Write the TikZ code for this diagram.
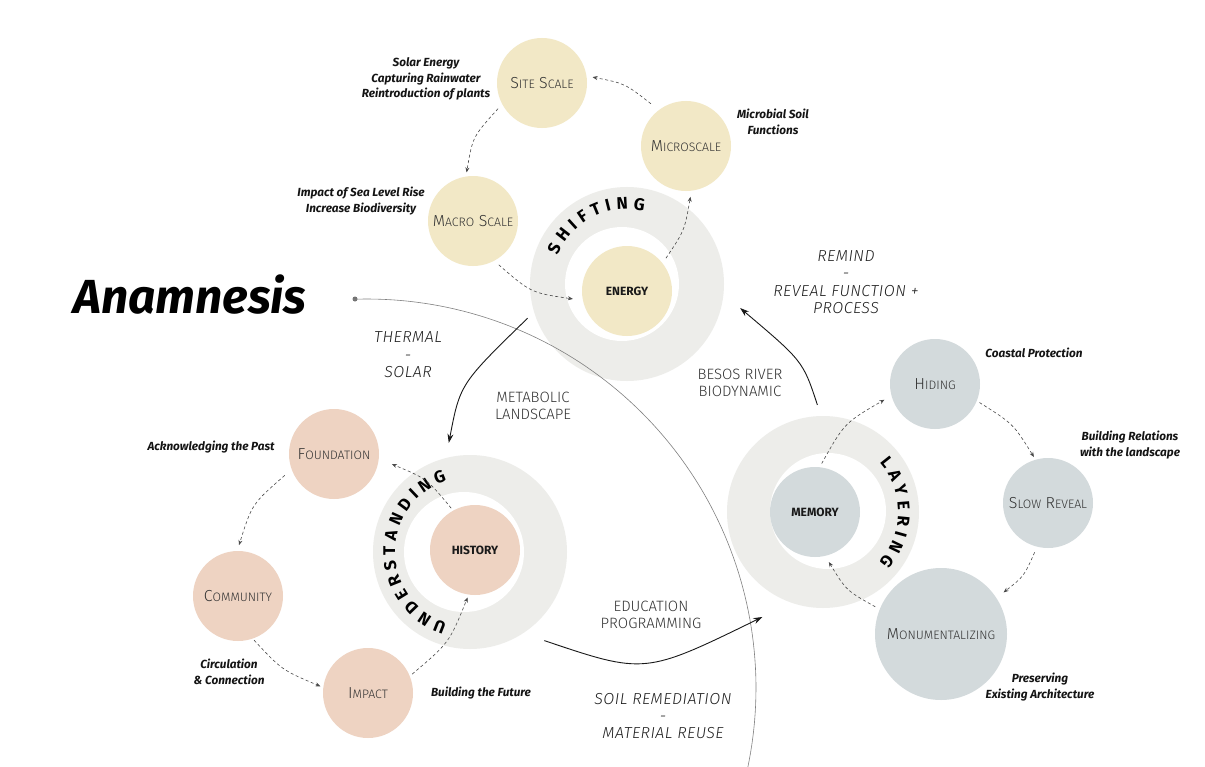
\documentclass[tikz,border=0pt]{standalone}
\usepackage{fontspec}
\setmainfont{Fira Sans}
\newfontfamily\lightf{Fira Sans Light}
\newfontfamily\lightsp{Fira Sans Light}[LetterSpace=3]
\usetikzlibrary{arrows.meta,decorations.text,calc}

\definecolor{cyel}{HTML}{F2E8C6}
\definecolor{cpink}{HTML}{EED3C2}
\definecolor{cblue}{HTML}{D3DADC}
\definecolor{cring}{HTML}{EDEDEA}
\definecolor{ctxt}{HTML}{333333}
\definecolor{cdash}{HTML}{4A4A4A}

\newcommand\scx[1]{{\fontsize{12.3}{14}\selectfont #1}}

\begin{document}
\begin{tikzpicture}[x=1bp,y=-1bp,
  bub/.style={circle, inner sep=0pt, minimum size=90bp, text=ctxt,
    font=\lightf\fontsize{16}{18}\selectfont},
  core/.style={circle, inner sep=0pt, minimum size=90bp, text=black!90,
    font=\bfseries\fontsize{12}{14}\selectfont},
  ringo/.style={circle, inner sep=0pt, fill=cring, minimum size=194bp},
  hole/.style={circle, inner sep=0pt, fill=white},
  note/.style={align=center, text=black!92,
    font=\bfseries\itshape\fontsize{11.8}{15.5}\selectfont},
  caps/.style={align=center, text=black!80,
    font=\lightf\fontsize{15}{16.5}\selectfont},
  icaps/.style={align=center, text=black!88,
    font=\lightsp\itshape\fontsize{16}{17.5}\selectfont},
  flow/.style={draw=cdash, line width=0.6bp, dash pattern=on 3bp off 2.5bp,
    -{Stealth[length=5bp,width=4bp]}, shorten <=6bp, shorten >=6bp},
  bigarrow/.style={draw=black!90, line width=0.9bp,
    -{Stealth[length=9bp,width=6bp]}},
  ringtext/.style={decorate, decoration={text along path, text align=fit to path,
    text={|\bfseries\fontsize{17}{17}\selectfont|#1}}}
]
\useasboundingbox (0,0) rectangle (1205,767);
\fill[white] (0,0) rectangle (1205,767);

% rings
\node[ringo] (eringr) at (627,284) {};
\node[hole, minimum size=114bp] (ehole) at (622,284) {};
\node[ringo] (hringr) at (470,552) {};
\node[hole, minimum size=120bp] (hhole) at (464,552) {};
\node[ringo, minimum size=192bp] (mringr) at (823,512) {};
\node[hole, minimum size=116bp] (mhole) at (828,511) {};

% ring texts
\path[ringtext=SHIFTING] plot[domain=202:283, samples=50] ({627+75*cos(\x)},{284+75*sin(\x)});
\path[ringtext=UNDERSTANDING] plot[domain=108:252, samples=60] ({470+75*cos(\x)},{552+75*sin(\x)});
\path[ringtext=LAYERING] plot[domain=-41:42, samples=50] ({823+75*cos(\x)},{512+75*sin(\x)});

% cores
\node[core, fill=cyel] (energy) at (627,291) {ENERGY};
\node[core, fill=cpink] (history) at (475,550) {HISTORY};
\node[core, fill=cblue] (memory) at (815,512) {MEMORY};

% satellites
\node[bub, fill=cyel] (site) at (542,83) {S\scx{ITE} S\scx{CALE}};
\node[bub, fill=cyel] (micro) at (686,146) {M\scx{ICROSCALE}};
\node[bub, fill=cyel] (macro) at (473,221) {M\scx{ACRO} S\scx{CALE}};
\node[bub, fill=cpink] (found) at (334,454) {F\scx{OUNDATION}};
\node[bub, fill=cpink] (comm) at (238,596) {C\scx{OMMUNITY}};
\node[bub, fill=cpink] (impact) at (368,693) {I\scx{MPACT}};
\node[bub, fill=cblue] (hiding) at (935,384) {H\scx{IDING}};
\node[bub, fill=cblue] (slow) at (1048,503) {S\scx{LOW} R\scx{EVEAL}};
\node[bub, fill=cblue, minimum size=132bp] (monu) at (941,634) {M\scx{ONUMENTALIZING}};

% gray line
\node[circle, fill=black!55, inner sep=0pt, minimum size=5bp] (gdot) at (355,299) {};
\draw[black!50, line width=0.6bp] (gdot.center) -- plot[domain=-92:12, samples=90] ({367+389*cos(\x)},{688+389*sin(\x)});

% dashed cycles
\draw[flow, shorten <=10bp] (micro.127) .. controls (625,83.5) .. (site.9);
\draw[flow, shorten >=4bp] (site.208) .. controls (472.7,136.7) .. (macro.99);
\draw[flow, shorten >=10bp] (macro.-62) .. controls (531,292.8) .. (energy.192);
\draw[flow] (energy.38) .. controls (684.5,230.5) .. (micro.-83);

\draw[flow, shorten <=9bp] (found.200) .. controls (252,504) .. (comm.91);
\draw[flow, shorten <=2bp, shorten >=3bp] (comm.-71) .. controls (281.9,670) .. (impact.173);
\draw[flow, shorten <=3bp, shorten >=3bp] (impact.22) .. controls (449.2,642.7) .. (history.262);
\draw[flow, shorten <=3bp, shorten >=14bp] (history.119) .. controls (426.8,478.7) .. (found.-6);

\draw[flow, shorten <=4bp, shorten >=8bp] (memory.84) .. controls (844.4,423) .. (hiding.195);
\draw[flow, shorten <=3bp, shorten >=3bp] (hiding.-22) .. controls (1013.2,423.8) .. (slow.106);
\draw[flow, shorten >=9bp] (slow.256) .. controls (1024,576.3) .. (monu.33);
\draw[flow, shorten <=5bp, shorten >=7bp] (monu.158) .. controls (846.3,590.5) .. (memory.-77);

% big arrows
\draw[bigarrow] ($(eringr.center)!1.082!(eringr.199)$) .. controls (460.1,383.9) .. ($(hringr.center)!1.144!(hringr.101)$);
\draw[bigarrow] ($(hringr.center)!1.19!(hringr.-50)$) .. controls (644.8,674.5) .. ($(mringr.center)!1.26!(mringr.-120)$);
\draw[bigarrow] ($(mringr.center)!1.115!(mringr.93)$) .. controls (803,361.2) .. ($(eringr.center)!1.19!(eringr.-12)$);

% title
\node[font=\bfseries\itshape\fontsize{48}{52}\selectfont] (title) at (190,295) {Anamnesis};

% notes
\node[note] (n1) at (426,79) {Solar Energy\\Capturing Rainwater\\Reintroduction of plants};
\node[note] (n2) at (773,122) {Microbial Soil\\Functions};
\node[note] (n3) at (361,201) {Impact of Sea Level Rise\\Increase Biodiversity};
\node[note] (n4) at (211,447) {Acknowledging the Past};
\node[note] (n5) at (229,672) {Circulation\\\& Connection};
\node[note] (n6) at (481,693) {Building the Future};
\node[note] (n7) at (1034,353) {Coastal Protection};
\node[note] (n8) at (1130,445) {Building Relations\\with the landscape};
\node[note] (n9) at (1040,687) {Preserving\\Existing Architecture};

% flow labels
\node[icaps] (t1) at (408,355) {THERMAL\\-\\SOLAR};
\node[icaps] (t2) at (846,282) {REMIND\\-\\REVEAL FUNCTION +\\PROCESS};
\node[icaps] (t3) at (663,716) {SOIL REMEDIATION\\-\\MATERIAL REUSE};
\node[caps] (c1) at (533,406) {METABOLIC\\LANDSCAPE};
\node[caps] (c2) at (740,383) {BESOS RIVER\\BIODYNAMIC};
\node[caps] (c3) at (651,615) {EDUCATION\\PROGRAMMING};
\end{tikzpicture}
\end{document}
